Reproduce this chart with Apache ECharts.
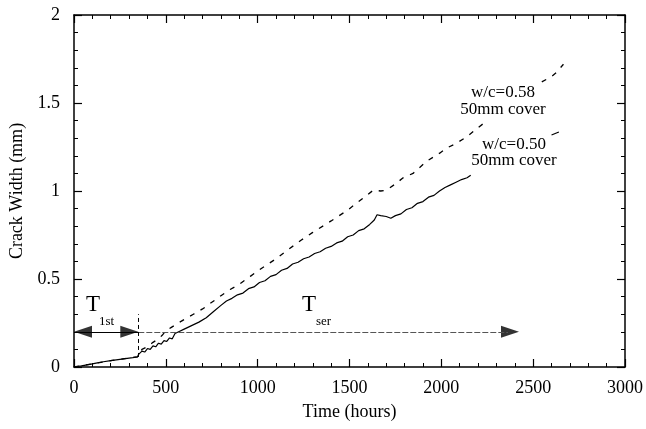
<!DOCTYPE html>
<html lang="en">
<head>
    <meta charset="UTF-8">
    <title>Crack Width vs Time</title>
    <script src="https://cdn.jsdelivr.net/npm/echarts@6/dist/echarts.min.js"></script>
    <style>
        html, body { margin: 0; padding: 0; background: #fff; }
        #chart { width: 646px; height: 429px; }
    </style>
</head>
<body>
<div id="chart"></div>
<script>
    // w/c = 0.50, 50mm cover (solid line); null = hidden behind the label
    var solidHours = [0, 40, 80, 120, 160, 200, 240, 280, 320, 345, 352, 370, 385, 400, 415, 430, 445, 460, 475, 490,
        505, 520, 535, 550, 570, 600, 640, 680, 720, 760, 800, 830, 860, 890, 920, 950, 980, 1010, 1040, 1070,
        1100, 1130, 1160, 1190, 1220, 1250, 1280, 1310, 1340, 1370, 1400, 1430, 1460, 1490, 1520, 1550, 1580, 1610,
        1635, 1650, 1670, 1700, 1725, 1750, 1780, 1810, 1840, 1870, 1900, 1930, 1960, 1990, 2020, 2050, 2080, 2110,
        2140, 2160, 2380, 2600, 2640];
    var solidWidth = [0, 0.006, 0.014, 0.022, 0.03, 0.036, 0.042, 0.048, 0.053, 0.057, 0.072, 0.09, 0.085, 0.105, 0.1, 0.12, 0.115, 0.135, 0.13, 0.15,
        0.145, 0.165, 0.16, 0.19, 0.2, 0.215, 0.235, 0.255, 0.28, 0.315, 0.35, 0.375, 0.39, 0.41, 0.42, 0.445, 0.455, 0.48, 0.49, 0.515,
        0.525, 0.55, 0.56, 0.585, 0.595, 0.615, 0.625, 0.645, 0.655, 0.675, 0.685, 0.705, 0.715, 0.74, 0.75, 0.775, 0.785, 0.81,
        0.835, 0.865, 0.86, 0.855, 0.845, 0.86, 0.87, 0.895, 0.905, 0.93, 0.94, 0.965, 0.975, 1.0, 1.02, 1.035, 1.05, 1.065,
        1.075, 1.09, null, 1.318, 1.335];

    // w/c = 0.58, 50mm cover (dashed line)
    var dashHours = [0, 100, 200, 300, 345, 350, 370, 400, 430, 460, 480, 500, 530, 560, 600, 650, 700, 767, 800, 850,
        900, 960, 1020, 1100, 1170, 1236, 1300, 1400, 1488, 1550, 1600, 1630, 1670, 1700, 1750, 1792, 1846, 1921, 1991, 2029,
        2080, 2137, 2200, 2250, 2400, 2547, 2600, 2623, 2665];
    var dashWidth = [0, 0.018, 0.036, 0.052, 0.057, 0.07, 0.1, 0.115, 0.14, 0.16, 0.18, 0.205, 0.225, 0.245, 0.27, 0.3, 0.33, 0.38, 0.405, 0.44,
        0.47, 0.515, 0.56, 0.615, 0.67, 0.72, 0.765, 0.83, 0.89, 0.94, 0.98, 1.005, 1.0, 1.005, 1.04, 1.075, 1.1, 1.17, 1.215, 1.244,
        1.27, 1.307, 1.36, 1.4, null, 1.62, 1.65, 1.67, 1.72];

    // annotation: T1st and Tser periods
    var firstCrackHour = 350;
    var serviceEndHour = 2423;
    var arrowLevel = 0.2;

    var xTicks = { min: 0, max: 3000, step: 500 };
    var yTicks = { min: 0, max: 2, step: 0.5 };

    function pairs(xs, ys) {
        return xs.map(function (x, i) { return ys[i] === null ? '-' : [x, ys[i]]; });
    }

    var font = 'Liberation Serif';
    var axisBase = {
        axisLine: { show: true, onZero: false, lineStyle: { color: '#000', width: 1.5 } },
        axisTick: { show: true, inside: true, length: 8, lineStyle: { color: '#000', width: 1.2 } },
        minorTick: { show: true, splitNumber: 5, length: 4, lineStyle: { color: '#000', width: 1 } },
        splitLine: { show: false },
        minorSplitLine: { show: false }
    };

    var chart = echarts.init(document.getElementById('chart'));
    chart.setOption({
        animation: false,
        backgroundColor: '#fff',
        grid: { left: 71, right: 19, top: 15, bottom: 62 },
        xAxis: [
            Object.assign({}, axisBase, {
                type: 'value', position: 'bottom', min: xTicks.min, max: xTicks.max, interval: xTicks.step,
                name: 'Time (hours)', nameLocation: 'middle', nameGap: 36,
                nameTextStyle: { fontFamily: font, fontSize: 18, color: '#000' },
                axisLabel: { fontFamily: font, fontSize: 18, color: '#000', margin: 12,
                    formatter: function (v) { return String(v); } }
            }),
            Object.assign({}, axisBase, {
                type: 'value', position: 'top', min: xTicks.min, max: xTicks.max, interval: xTicks.step,
                axisLabel: { show: false }
            })
        ],
        yAxis: [
            Object.assign({}, axisBase, {
                type: 'value', position: 'left', min: yTicks.min, max: yTicks.max, interval: yTicks.step,
                name: 'Crack Width (mm)', nameLocation: 'middle', nameGap: 48,
                nameTextStyle: { fontFamily: font, fontSize: 18, color: '#000' },
                axisLabel: { fontFamily: font, fontSize: 18, color: '#000', margin: 14 }
            }),
            Object.assign({}, axisBase, {
                type: 'value', position: 'right', min: yTicks.min, max: yTicks.max, interval: yTicks.step,
                axisLabel: { show: false }
            })
        ],
        series: [
            {
                name: 'w/c=0.50', type: 'line', data: pairs(solidHours, solidWidth),
                showSymbol: false, connectNulls: false,
                lineStyle: { color: '#000', width: 1.2 }
            },
            {
                name: 'w/c=0.58', type: 'line', data: pairs(dashHours, dashWidth),
                showSymbol: false, connectNulls: false,
                lineStyle: { color: '#000', width: 1.3, type: [5, 7] }
            },
            {
                name: 'arrows', type: 'scatter', silent: true,
                symbol: 'triangle',
                data: [
                    { value: [0, arrowLevel], symbolRotate: 90, symbolOffset: [9, 0] },
                    { value: [firstCrackHour, arrowLevel], symbolRotate: -90, symbolOffset: [-9, 0] },
                    { value: [serviceEndHour, arrowLevel], symbolRotate: -90, symbolOffset: [-9, 0] }
                ],
                symbolSize: [12, 18],
                itemStyle: { color: '#000' },
                markLine: {
                    silent: true, symbol: 'none', label: { show: false },
                    data: [
                        [{ coord: [0, arrowLevel], lineStyle: { color: '#000', width: 1, type: 'solid' } },
                         { coord: [firstCrackHour, arrowLevel] }],
                        [{ coord: [firstCrackHour, arrowLevel], lineStyle: { color: '#555', width: 1, type: [6, 2] } },
                         { coord: [serviceEndHour - 60, arrowLevel] }],
                        [{ coord: [firstCrackHour, 0.057], lineStyle: { color: '#000', width: 1, type: [4, 3] } },
                         { coord: [firstCrackHour, 0.3] }]
                    ]
                }
            }
        ],
        graphic: [
            { type: 'text', left: 86, top: 293, z: 100, style: { text: 'T', font: '23px "Liberation Serif"', fill: '#000' } },
            { type: 'text', left: 99, top: 315, z: 100, style: { text: '1st', font: '13px "Liberation Serif"', fill: '#000' } },
            { type: 'text', left: 302, top: 293, z: 100, style: { text: 'T', font: '23px "Liberation Serif"', fill: '#000' } },
            { type: 'text', left: 316, top: 315, z: 100, style: { text: 'ser', font: '13px "Liberation Serif"', fill: '#000' } },
            { type: 'text', x: 503, y: 84, z: 100, style: { text: 'w/c=0.58\n50mm cover', font: '17px "Liberation Serif"', lineHeight: 17, fill: '#000', align: 'center' } },
            { type: 'text', x: 514, y: 137, z: 100, style: { text: 'w/c=0.50\n50mm cover', font: '17px "Liberation Serif"', lineHeight: 16, fill: '#000', align: 'center' } }
        ]
    });
</script>
</body>
</html>
